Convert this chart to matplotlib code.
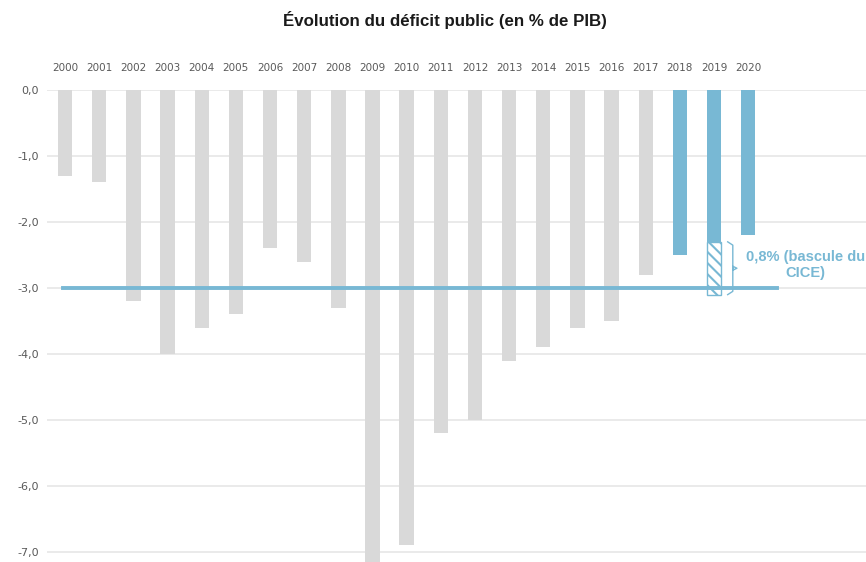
import matplotlib.pyplot as plt
from matplotlib.ticker import FixedLocator, FuncFormatter

years = [str(y) for y in range(2000, 2021)]
deficit = [-1.3, -1.4, -3.2, -4.0, -3.6, -3.4, -2.4, -2.6, -3.3, -7.2,
           -6.9, -5.2, -5.0, -4.1, -3.9, -3.6, -3.5, -2.8, -2.5, -2.3, -2.2]
forecast_years = ["2018", "2019", "2020"]
cice_year = "2019"
cice_effect = -0.8
seuil = -3.0

grey = "#d9d9d9"
blue = "#78b8d4"
text_col = "#595959"

fig = plt.figure(figsize=(8.66, 5.62), dpi=100)
ax = fig.add_axes([47 / 866, 0, 1 - 47 / 866, 1 - 90 / 562])

x = list(range(len(years)))
colors = [blue if y in forecast_years else grey for y in years]
ax.bar(x, deficit, width=0.42, color=colors, zorder=2)

# part hachurée : bascule du CICE
i = years.index(cice_year)
base = deficit[i]
plt.rcParams['hatch.linewidth'] = 1.5
ax.bar(x[i], cice_effect, bottom=base, width=0.42, color="white",
       edgecolor=blue, hatch="\\\\\\", linewidth=1, zorder=2)

# seuil de 3 %
ax.plot([-0.05, 20.85], [seuil, seuil], color=blue, linewidth=2.8, zorder=3)

# accolade
bx = x[i] + 0.55
top, bot = base, base + cice_effect
mid = (top + bot) / 2
ax.plot([bx - 0.15, bx, bx, bx + 0.12, bx, bx, bx - 0.15],
        [top, top - 0.05, mid - 0.03, mid, mid + 0.03, bot + 0.05, bot],
        color=blue, linewidth=1, zorder=3, clip_on=False)
ax.text(bx + 2.13, mid + 0.05, "0,8% (bascule du\nCICE)", color=blue,
        fontsize=10.5, fontweight="bold", ha="center", va="center",
        multialignment="center", family="Liberation Sans", linespacing=1.15)

ax.set_xlim(-0.53, 23.45)
ax.set_ylim(-7.15, 0)
ax.yaxis.set_major_locator(FixedLocator([0, -1, -2, -3, -4, -5, -6, -7]))
ax.yaxis.set_major_formatter(FuncFormatter(lambda v, p: f"{v:.1f}".replace(".", ",")))
ax.grid(axis="y", color="#e6e6e6", linewidth=1.2, zorder=0)
ax.set_axisbelow(True)

ax.xaxis.tick_top()
ax.set_xticks(x)
ax.set_xticklabels(years)
ax.tick_params(axis="x", length=0, pad=12, labelsize=7.5, colors=text_col)
ax.tick_params(axis="y", length=0, pad=6, labelsize=8, colors=text_col)
for s in ax.spines.values():
    s.set_visible(False)

fig.text(445 / 866, 1 - 20 / 562, "Évolution du déficit public (en % de PIB)",
         ha="center", va="center", fontsize=12.2, fontweight="bold",
         family="Liberation Sans", color="#1a1a1a")

fig.savefig("out.png", dpi=100)
